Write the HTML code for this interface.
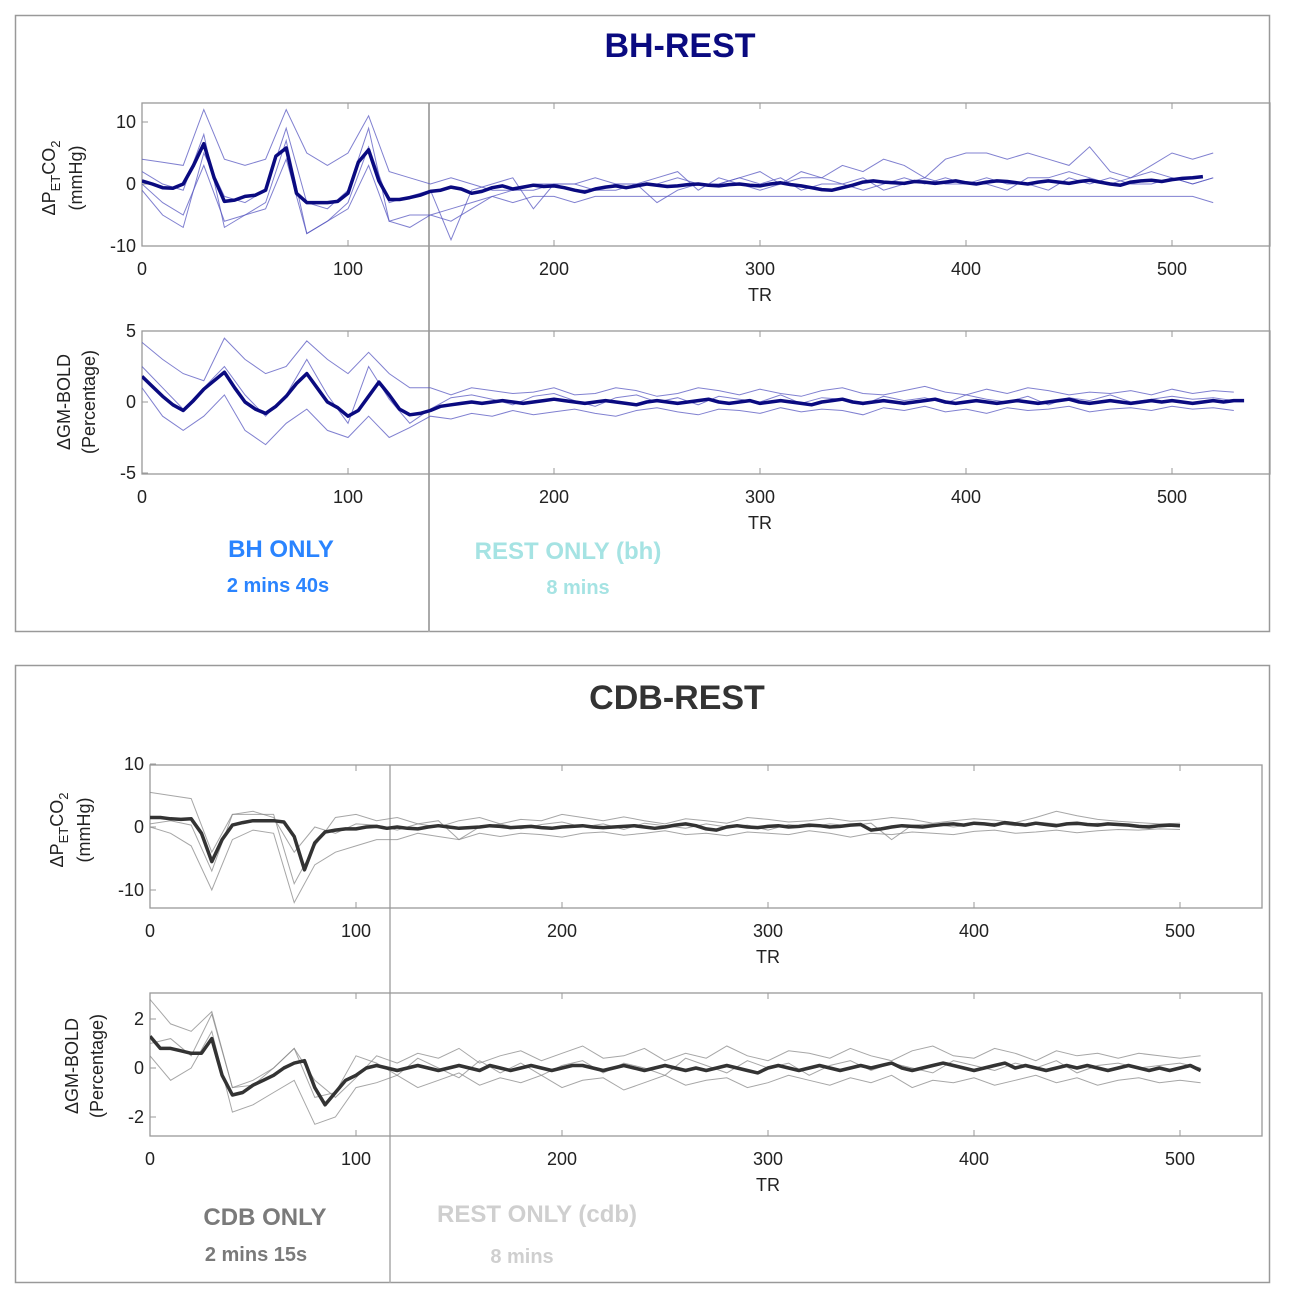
<!DOCTYPE html>
<html><head><meta charset="utf-8"><style>
html,body{margin:0;padding:0;background:#fff}
svg{display:block;font-family:"Liberation Sans",sans-serif}
</style></head><body>
<svg id="chart" width="1294" height="1302" viewBox="0 0 1294 1302">
<rect x="15.5" y="15.5" width="1254" height="616" fill="#fff" stroke="#999" stroke-width="1.5"/>
<rect x="15.5" y="665.5" width="1254" height="617" fill="#fff" stroke="#999" stroke-width="1.5"/>
<text x="680" y="57" text-anchor="middle" font-size="34" font-weight="bold" fill="#0a0a80">BH-REST</text>
<text x="677" y="709" text-anchor="middle" font-size="34" font-weight="bold" fill="#333">CDB-REST</text>
<line x1="429" y1="103" x2="429" y2="632" stroke="#aaa" stroke-width="2"/>
<line x1="390" y1="765" x2="390" y2="1283" stroke="#aaa" stroke-width="1.5"/>
<text x="281" y="557" text-anchor="middle" font-size="24" font-weight="bold" fill="#2a84ff">BH ONLY</text>
<text x="278" y="592" text-anchor="middle" font-size="20" font-weight="bold" fill="#2a84ff">2 mins 40s</text>
<text x="568" y="559" text-anchor="middle" font-size="24" font-weight="bold" fill="#a5e3e3">REST ONLY (bh)</text>
<text x="578" y="594" text-anchor="middle" font-size="20" font-weight="bold" fill="#a5e3e3">8 mins</text>
<text x="265" y="1225" text-anchor="middle" font-size="24" font-weight="bold" fill="#7a7a7a">CDB ONLY</text>
<text x="256" y="1261" text-anchor="middle" font-size="20" font-weight="bold" fill="#7a7a7a">2 mins 15s</text>
<text x="537" y="1222" text-anchor="middle" font-size="24" font-weight="bold" fill="#cfcfcf">REST ONLY (cdb)</text>
<text x="522" y="1263" text-anchor="middle" font-size="20" font-weight="bold" fill="#cfcfcf">8 mins</text>
<g id="plots"></g>
</svg>
<script>
// ---- data (means every 5 TR, subjects every 10 TR) ----
const bhCo2Mean=[0.5,0,-0.6,-0.7,0,3,6.5,1,-2.8,-2.6,-2,-1.8,-1,4.5,5.8,-1.5,-3,-3,-3,-2.8,-1.5,3.5,5.5,0.5,-2.5,-2.5,-2.2,-1.8,-1.2,-1,-0.5,-0.8,-1.5,-1.2,-0.6,-0.3,-0.8,-0.5,-0.2,-0.4,-0.3,-0.6,-1,-1.3,-0.8,-0.5,-0.3,-0.6,-0.3,0,-0.2,-0.4,-0.3,-0.1,0,-0.2,-0.3,-0.1,0,-0.2,-0.3,0,0.2,-0.1,-0.3,-0.6,-0.9,-1,-0.6,-0.2,0.3,0.5,0.3,0.2,0.1,0.4,0.3,0.1,0.3,0.5,0.2,0,0.3,0.5,0.4,0.2,0,0.3,0.5,0.3,0.1,0.4,0.6,0.3,0,-0.2,0.3,0.5,0.6,0.4,0.7,0.9,1,1.2];
const bhCo2S1=[4,3.5,3,12,4,3,4,12,5,3,5,11,2,1,0,1,0,-1,-1,0,0,0,1,0,0,0,1,0,0,1,2,0,1,1,3,2,4,3,1,4,5,5,4,5,4,3,6,2,1,3,5,4,5];
const bhCo2S2=[0,-3,-5,3,-6,-5,-4,4,-8,-6,-4,3,-6,-7,-5,-4,-3,-2,-3,-2,-2,-3,-2,-2,-2,-2,-2,-2,-2,-2,-2,-2,-2,-2,-2,-2,-2,-2,-2,-2,-2,-2,-2,-2,-2,-2,-2,-2,-2,-2,-2,-2,-3];
const bhCo2S3=[2,0,-1,8,-7,-5,-3,7,-8,-6,-3,6,-3,-2,-1,-9,-1,0,1,-4,0,-1,-1,0,0,-3,-1,0,0,1,0,1,-1,0,0,1,-1,0,1,0,0,1,0,0,-1,1,0,1,0,0,1,0,1];
const bhCo2S4=[-1,-5,-7,5,-2,-3,-1,9,-3,-4,-1,9,-6,-5,-5,-6,-4,-2,-1,-1,0,0,-1,-1,0,1,2,-1,1,0,-1,0,2,1,0,-1,0,1,0,1,0,0,-1,1,1,2,1,0,1,2,1,0,1];
const bhBoldMean=[1.8,1.1,0.4,-0.2,-0.6,0.1,0.9,1.5,2.1,1,0,-0.5,-0.8,-0.3,0.4,1.3,2,1,0,-0.4,-1,-0.6,0.4,1.4,0.5,-0.5,-0.9,-0.8,-0.6,-0.3,-0.2,-0.1,0,-0.1,0,0.1,0,-0.1,0,0.1,0.2,0.1,0,-0.1,0,0.1,0,-0.1,-0.2,0,0.1,0,-0.1,0,0.1,0.2,0,-0.1,0,0.1,-0.1,0,0.1,0,-0.1,-0.2,0,0.1,0.2,0,-0.1,0,0.1,0,-0.1,0,0.1,0.2,0,-0.1,0,0.1,0,-0.1,0,0.1,0,-0.1,0,0.1,0.2,0,-0.1,0,0.1,0,-0.1,0,0.1,0,0.1,0,-0.1,0,0.1,0,0.1,0.1];
const bhBoldS1=[4.2,3,2,1.5,4.5,3,2,2.5,4.3,3,2,3.5,2,1,1,0.5,1,0.8,0.6,0.7,1,0.5,0.6,1,0.8,0.4,0.6,1,0.8,0.5,0.9,0.6,0.4,0.8,1,0.6,0.5,0.8,1.1,0.7,0.5,0.9,0.6,1,0.8,0.5,0.7,0.6,0.8,0.5,0.9,0.6,0.8,0.7];
const bhBoldS2=[1,-1,-2,-1,0.5,-2,-3,-1.5,-0.5,-2,-2.5,-1,-2.5,-1.8,-1,-1.2,-0.8,-1,-0.6,-0.9,-0.7,-0.5,-0.8,-1,-0.6,-0.4,-0.7,-0.9,-0.5,-0.6,-0.8,-0.4,-0.7,-0.5,-0.6,-0.9,-0.4,-0.6,-0.3,-0.7,-0.5,-0.8,-0.4,-0.6,-0.5,-0.3,-0.7,-0.5,-0.4,-0.6,-0.3,-0.5,-0.4,-0.6];
const bhBoldS3=[2.5,1,-0.5,1,2.5,0.5,-1,0.5,3,0.5,-1.5,2.5,0.2,-1.5,-0.5,0.3,0.5,0.2,-0.2,0.4,0.6,0.1,-0.3,0.3,0.5,0,0.3,-0.2,0.4,0.2,0,0.5,-0.1,0.3,0.2,-0.2,0.4,0.1,0.3,-0.1,0.5,0.2,0,0.4,-0.2,0.3,0.1,0.5,0,0.2,0.4,0.2,0.3,0.1];
const cdbCo2Mean=[1.5,1.5,1.3,1.2,1.3,-1,-5.5,-2,0.3,0.7,1,1,1,0.8,-1.5,-6.8,-2.5,-0.8,-0.5,-0.3,-0.3,0,0.1,-0.2,0,-0.2,-0.3,0,0.2,0,-0.2,-0.1,0,0.2,0.1,-0.1,0,0.1,-0.1,-0.2,0,0.1,0.2,0,-0.1,0,0.1,0.2,0,-0.2,0,0.3,0.5,0.2,-0.3,-0.5,0,0.2,0,-0.1,0.1,0.2,0,0.1,0.3,0.2,0,0.1,0.3,0.4,-0.5,-0.3,0,0.2,0.1,0,0.2,0.4,0.5,0.3,0.6,0.5,0.3,0.7,0.5,0.3,0.6,0.4,0.2,0.5,0.6,0.4,0.3,0.5,0.4,0.3,0.1,0,0.2,0.3,0.2];
const cdbCo2S1=[5.5,5,4.5,-4,2,2,2,-9,-3,1.5,2,1,1.5,0.5,0,1,1.5,0.5,1.2,1,2,1.5,1,1.6,1,0.5,1.3,1,0.6,1.5,1.2,0.8,1,1.4,0.9,1.1,1.5,1.2,0.6,1,1.3,1.1,0.7,1.5,2.5,1.8,1.2,0.9,0.7,0.5,0.6];
const cdbCo2S2=[0,-1,-3,-10,-2,-0.5,-1,-12,-6,-4,-3,-2,-2,-1,-1.5,-2,-1,-1.5,-1,-1.2,-1.6,-1,-0.8,-1.3,-1,-0.6,-1.2,-1,-1.4,-0.8,-1,-1.2,-0.6,-1,-1.6,-1,-1.2,-0.8,-1,-1.2,-0.7,-0.5,-1,-0.8,-0.5,-0.9,-0.6,-0.4,-0.5,-0.3,-0.4];
const cdbCo2S3=[0.5,1,0.3,-7,2,2.5,1.5,-4,0,-1,0.5,0.3,-0.5,0.5,1,-2,0,0.5,-0.3,0.4,0.8,0,0.5,-0.4,0.6,0.2,-0.2,0.5,0,0.3,-0.5,0.4,0,0.5,0.2,0.6,-2,0.3,0.5,0,0.4,0.6,0.2,0.8,0.5,0.3,0.6,0.4,0.2,0.4,0.3];
const cdbBoldMean=[1.3,0.8,0.8,0.7,0.6,0.6,1.2,-0.3,-1.1,-1,-0.7,-0.5,-0.3,0,0.2,0.3,-0.8,-1.5,-1,-0.5,-0.3,0,0.1,0,-0.1,0,0.1,0,-0.1,0,0.1,0,-0.1,0.1,0,-0.1,0,0.1,0,-0.1,0,0.1,0.1,0,-0.1,0,0.1,0,-0.1,0,0.1,0,-0.1,0,-0.1,0,0.1,0,-0.1,-0.2,0,0.1,0,-0.1,0,0.1,0,-0.1,0,0.1,0,0.1,0.2,0,-0.1,0,0.1,0.2,0.1,0,-0.1,0,0.1,0.2,0,0.1,0,-0.1,0,0.1,0,0.1,0,-0.1,0,0.1,0,-0.1,0,-0.1,0,0.1,-0.1];
const cdbBoldS1=[2.8,1.8,1.5,2.3,-0.8,-0.5,0,0.8,-0.5,-1.2,-0.4,0.5,0.2,0.6,0.4,0.8,0.2,0.5,0.7,0.3,0.6,0.9,0.4,0.5,0.8,0.3,0.6,0.4,0.9,0.5,0.3,0.7,0.6,0.4,0.8,0.5,0.3,0.7,0.9,0.5,0.4,0.8,0.6,0.3,0.7,0.5,0.6,0.4,0.6,0.5,0.4,0.5];
const cdbBoldS2=[0.5,-0.5,0,1.5,-1.8,-1.5,-1,-0.5,-2.3,-2,-0.8,-0.6,-0.3,-0.8,-0.5,-0.2,-0.7,-0.4,-0.6,-0.3,-0.8,-0.5,-0.4,-0.9,-0.6,-0.3,-0.7,-0.5,-0.4,-0.8,-0.6,-0.3,-0.5,-0.7,-0.4,-0.6,-0.3,-0.8,-0.5,-0.6,-0.4,-0.7,-0.5,-0.3,-0.6,-0.4,-0.7,-0.5,-0.4,-0.6,-0.5,-0.6];
const cdbBoldS3=[1,1.2,0.5,2.2,-0.8,-0.7,0,0.8,-1.2,-1,0.5,0.2,-0.3,0.4,0,-0.4,0.3,-0.2,0.2,-0.3,0.1,0.3,-0.2,0.2,0,-0.3,0.4,0.1,-0.2,0.3,0,0.2,-0.3,0.1,0.3,-0.1,0.2,0,-0.2,0.3,0.1,-0.1,0.2,0,0.3,-0.2,0.1,0.2,0,0.1,0.2,0];
const xTicks=[0,100,200,300,400,500];

const NS='http://www.w3.org/2000/svg';
const root=document.getElementById('plots');
function mk(tag,attrs,parent){const e=document.createElementNS(NS,tag);for(const k in attrs)e.setAttribute(k,attrs[k]);(parent||root).appendChild(e);return e;}

function plot(c){
  const g=mk('g',{});
  
  
  const xs=v=>c.x0+v*2.06, ys=v=>c.y0-v*c.ppu;
  const frame=mk('rect',{x:c.x0,y:c.top,width:c.right-c.x0,height:c.bottom-c.top,fill:'none',stroke:'#999','stroke-width':1.3},g);
  
  
  xTicks.forEach(t=>{
    const x=xs(t);
    mk('line',{x1:x,y1:c.bottom,x2:x,y2:c.bottom-6,stroke:'#999'},g);
    mk('line',{x1:x,y1:c.top,x2:x,y2:c.top+6,stroke:'#999'},g);
    const tl=mk('text',{x:x,y:c.bottom+29,'text-anchor':'middle','font-size':18,fill:'#222'},g);
    tl.textContent=t;
    
    
  });
  c.yticks.forEach(t=>{
    const y=ys(t);
    mk('line',{x1:c.x0,y1:y,x2:c.x0+6,y2:y,stroke:'#999'},g);
    const tl=mk('text',{x:c.x0-6,y:y+6,'text-anchor':'end','font-size':18,fill:'#222'},g);
    tl.textContent=t;
    
    
  });
  const xt=mk('text',{x:xs(300),y:c.bottom+55,'text-anchor':'middle','font-size':18,fill:'#222'},g);
  xt.textContent='TR';
  
  
  const yl=mk('text',{transform:`translate(${c.lx},${c.ly}) rotate(-90)`,'text-anchor':'middle','font-size':18,fill:'#222'},g);
  
  
  if(c.co2){
    yl.innerHTML='<tspan x="0" y="0">ΔP</tspan><tspan font-size="13" dy="5">ET</tspan><tspan dy="-5">CO</tspan><tspan font-size="13" dy="5">2</tspan><tspan x="0" y="27" dy="0">(mmHg)</tspan>';
  } else {
    yl.innerHTML='<tspan x="0" y="0">ΔGM-BOLD</tspan><tspan x="0" y="25">(Percentage)</tspan>';
  }
  const clip='clip-'+c.name;
  const cp=mk('clipPath',{id:clip},g);
  mk('rect',{x:c.x0,y:c.top,width:c.right-c.x0,height:c.bottom-c.top},cp);
  const lg=mk('g',{'clip-path':`url(#${clip})`},g);
  c.subs.forEach((s,i)=>{
    const p=mk('polyline',{points:s.map((v,j)=>xs(j*10).toFixed(1)+','+ys(v).toFixed(1)).join(' '),fill:'none',stroke:c.thin,'stroke-width':1,'stroke-opacity':0.75},lg);
    
    
  });
  const m=mk('polyline',{points:c.mean.map((v,j)=>xs(j*5).toFixed(1)+','+ys(v).toFixed(1)).join(' '),fill:'none',stroke:c.col,'stroke-width':3.5,'stroke-linejoin':'round'},lg);
  
  
}
plot({name:'bh-petco2-plot',x0:142,y0:184,ppu:6.2,top:103,bottom:246,right:1270,yticks:[-10,0,10],lx:55,ly:178,co2:true,mean:bhCo2Mean,subs:[bhCo2S1,bhCo2S2,bhCo2S3,bhCo2S4],col:'#0a0a80',thin:'#5555c0'});
plot({name:'bh-bold-plot',x0:142,y0:402,ppu:14.2,top:331,bottom:474,right:1270,yticks:[-5,0,5],lx:70,ly:402,co2:false,mean:bhBoldMean,subs:[bhBoldS1,bhBoldS2,bhBoldS3],col:'#0a0a80',thin:'#5555c0'});
plot({name:'cdb-petco2-plot',x0:150,y0:827,ppu:6.3,top:765,bottom:908,right:1262,yticks:[-10,0,10],lx:63,ly:830,co2:true,mean:cdbCo2Mean,subs:[cdbCo2S1,cdbCo2S2,cdbCo2S3],col:'#333',thin:'#888'});
plot({name:'cdb-bold-plot',x0:150,y0:1068,ppu:24.5,top:993,bottom:1136,right:1262,yticks:[-2,0,2],lx:78,ly:1066,co2:false,mean:cdbBoldMean,subs:[cdbBoldS1,cdbBoldS2,cdbBoldS3],col:'#333',thin:'#888'});
</script>
</body></html>
